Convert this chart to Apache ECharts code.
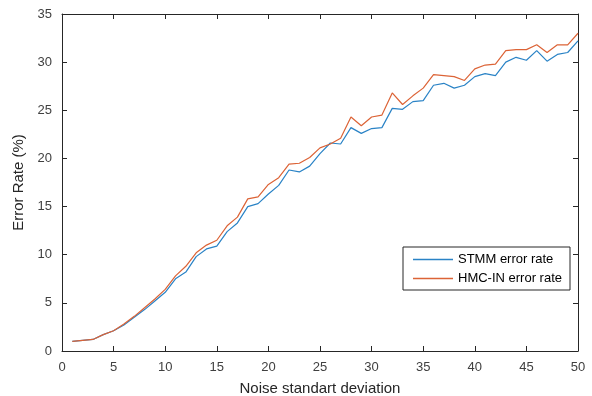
<!DOCTYPE html>
<html>
<head>
<meta charset="utf-8">
<script src="https://cdn.jsdelivr.net/npm/echarts@6/dist/echarts.min.js"></script>
<style>
  html, body { margin: 0; padding: 0; background: #fff; }
  #chart { width: 592px; height: 396px; }
</style>
</head>
<body>
<div id="chart"></div>
<script>
// noise standard deviation 1..50
const noiseLevels = [1,2,3,4,5,6,7,8,9,10,11,12,13,14,15,16,17,18,19,20,21,22,23,24,25,
  26,27,28,29,30,31,32,33,34,35,36,37,38,39,40,41,42,43,44,45,46,47,48,49,50];

const stmmRate = [1.0,1.1,1.2,1.7,2.1,2.7,3.5,4.3,5.2,6.1,7.5,8.2,9.8,10.6,10.9,12.4,13.3,15.0,15.3,16.3,
  17.2,18.8,18.6,19.2,20.5,21.6,21.5,23.2,22.6,23.1,23.2,25.2,25.1,25.9,26.0,27.6,27.8,27.3,27.6,28.5,
  28.8,28.6,30.0,30.5,30.2,31.2,30.1,30.8,31.0,32.2];

const hmcRate = [1.0,1.1,1.2,1.7,2.1,2.8,3.6,4.5,5.4,6.4,7.8,8.8,10.2,11.0,11.5,13.0,13.9,15.8,16.0,17.3,
  18.0,19.4,19.5,20.1,21.1,21.5,22.1,24.3,23.4,24.3,24.5,26.8,25.6,26.5,27.3,28.7,28.6,28.5,28.1,29.3,
  29.7,29.8,31.2,31.3,31.3,31.8,31.0,31.8,31.8,33.0];

const chart = echarts.init(document.getElementById('chart'));
const axisColor = '#262626';
const labelColor = '#404040';
const font = 'Liberation Sans, Arial, sans-serif';
const blue = '#2A83C6';
const orange = '#DC6336';

const tick = { inside: true, length: 5, lineStyle: { color: axisColor } };
const line = { show: true, onZero: false, lineStyle: { color: axisColor } };

const option = {
  animation: false,
  textStyle: { fontFamily: font },
  grid: { left: 62, right: 14, top: 14, bottom: 45, outerBoundsMode: 'none', containLabel: false },
  legend: {
    orient: 'vertical',
    left: 403,
    top: 247,
    icon: 'rect',
    itemWidth: 40,
    itemHeight: 1.5,
    itemGap: 6,
    padding: [6, 8, 5, 10],
    backgroundColor: '#fff',
    borderColor: axisColor,
    borderWidth: 1,
    textStyle: { fontSize: 13, color: '#000', fontFamily: font },
    data: ['STMM error rate', 'HMC-IN error rate']
  },
  xAxis: [
    {
      type: 'value', min: 0, max: 50, interval: 5,
      name: 'Noise standart deviation', nameLocation: 'middle', nameGap: 30,
      nameTextStyle: { fontSize: 15, color: '#262626', fontFamily: font },
      axisLine: line, axisTick: tick,
      axisLabel: { fontSize: 13, color: labelColor, margin: 10 },
      splitLine: { show: false }
    },
    {
      type: 'value', min: 0, max: 50, interval: 5, position: 'top',
      axisLine: line, axisTick: tick,
      axisLabel: { show: false }, splitLine: { show: false }
    }
  ],
  yAxis: [
    {
      type: 'value', min: 0, max: 35, interval: 5,
      name: 'Error Rate (%)', nameLocation: 'middle', nameGap: 29, nameRotate: 90,
      nameTextStyle: { fontSize: 15, color: '#262626', fontFamily: font },
      axisLine: line, axisTick: Object.assign({ show: true }, tick),
      axisLabel: { fontSize: 13, color: labelColor, margin: 10 },
      splitLine: { show: false }
    },
    {
      type: 'value', min: 0, max: 35, interval: 5, position: 'right',
      axisLine: line, axisTick: Object.assign({ show: true }, tick),
      axisLabel: { show: false }, splitLine: { show: false }
    }
  ],
  series: [
    {
      name: 'STMM error rate', type: 'line', symbol: 'none',
      data: noiseLevels.map((x, i) => [x, stmmRate[i]]),
      lineStyle: { color: blue, width: 1.2 },
      itemStyle: { color: blue }
    },
    {
      name: 'HMC-IN error rate', type: 'line', symbol: 'none',
      data: noiseLevels.map((x, i) => [x, hmcRate[i]]),
      lineStyle: { color: orange, width: 1.2 },
      itemStyle: { color: orange }
    }
  ]
};

chart.setOption(option);
</script>
</body>
</html>
